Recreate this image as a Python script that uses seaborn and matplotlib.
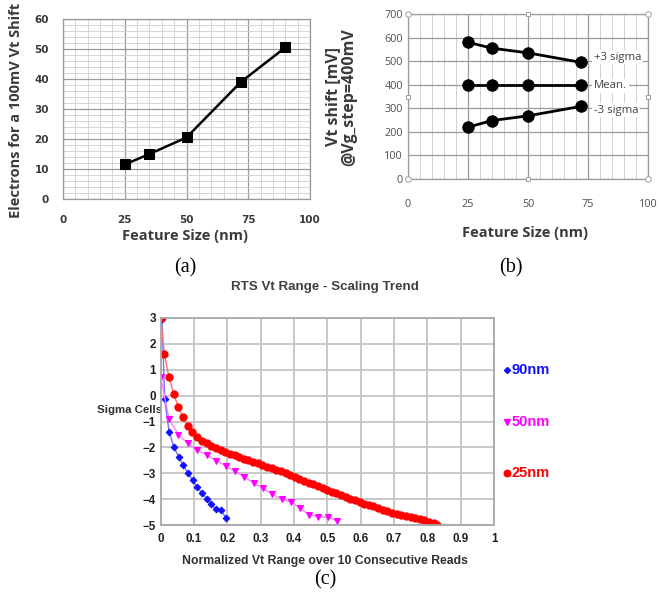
import matplotlib
matplotlib.use("Agg")
import matplotlib.pyplot as plt
from matplotlib.ticker import MultipleLocator
import pandas as pd
import seaborn as sns

# ---------------- (a) electrons needed for a 100 mV threshold shift
feature_a = [25, 35, 50, 72, 90]
electrons_a = [11.5, 15.0, 20.5, 39.0, 50.5]

# ---------------- (b) Vt shift statistics at Vg_step = 400 mV
feature_b = [25, 35, 50, 72]
vt_plus3 = [580, 555, 535, 495]
vt_mean = [400, 400, 400, 400]
vt_minus3 = [220, 248, 268, 308]
band_names = ["+3 sigma", "Mean.", "-3 sigma"]

# ---------------- (c) RTS Vt range distribution per node
range_90 = [0.004, 0.012, 0.025, 0.040, 0.054, 0.068, 0.082, 0.096, 0.110,
            0.124, 0.138, 0.152, 0.166, 0.181, 0.196]
sigma_90 = [2.95, -0.14, -1.39, -2.00, -2.37, -2.70, -3.00, -3.27, -3.54,
            -3.77, -3.99, -4.20, -4.39, -4.43, -4.73]

range_50 = [0.000, 0.025, 0.053, 0.081, 0.110, 0.138, 0.166, 0.195, 0.223,
            0.251, 0.279, 0.306, 0.335, 0.363, 0.390, 0.418, 0.446, 0.473,
            0.503, 0.530]
sigma_50 = [0.72, -0.90, -1.51, -1.84, -2.10, -2.29, -2.51, -2.71, -2.93,
            -3.15, -3.38, -3.58, -3.81, -4.01, -4.11, -4.36, -4.61, -4.68,
            -4.70, -4.85]

range_25 = [0.000, 0.011, 0.025, 0.039, 0.053, 0.067, 0.081, 0.095, 0.110,
            0.124, 0.138, 0.152, 0.166, 0.180, 0.194, 0.208, 0.222, 0.236,
            0.250, 0.263, 0.277, 0.291, 0.305, 0.319, 0.333, 0.347, 0.361,
            0.375, 0.388, 0.402, 0.416, 0.430, 0.444, 0.458, 0.472, 0.486,
            0.500, 0.513, 0.527, 0.541, 0.555, 0.569, 0.583, 0.597, 0.611,
            0.625, 0.638, 0.652, 0.666, 0.680, 0.694, 0.708, 0.722, 0.736,
            0.750, 0.763, 0.777, 0.791, 0.805, 0.819, 0.830]
sigma_25 = [3.00, 1.61, 0.71, 0.06, -0.45, -0.84, -1.17, -1.42, -1.59,
            -1.74, -1.85, -1.95, -2.03, -2.11, -2.18, -2.24, -2.31, -2.38,
            -2.44, -2.50, -2.57, -2.62, -2.68, -2.74, -2.80, -2.86, -2.93,
            -3.00, -3.07, -3.14, -3.21, -3.29, -3.36, -3.43, -3.50, -3.57,
            -3.64, -3.71, -3.78, -3.85, -3.91, -3.98, -4.05, -4.11, -4.17,
            -4.22, -4.28, -4.34, -4.41, -4.47, -4.53, -4.58, -4.62, -4.65,
            -4.69, -4.73, -4.77, -4.82, -4.88, -4.94, -4.99]

node_names = ["90nm", "50nm", "25nm"]
node_colors = ["#1010ff", "#ff00ff", "#ff0000"]
line_colors = ["#7070ff", "#ff80ff", "#ff7070"]
node_markers = ["D", "v", "o"]
node_msizes = [3.4, 5.0, 5.2]

sns.set_theme(style="white")
plt.rcParams["font.family"] = ["DejaVu Sans"]

W, H = 659, 595
fig = plt.figure(figsize=(W / 100, H / 100), dpi=100)


def px_axes(left, top, right, bottom):
    return fig.add_axes([left / W, 1 - bottom / H, (right - left) / W, (bottom - top) / H])


PT = 72 / 100  # points per pixel

# ======================= (a)
ax_a = px_axes(63, 19, 310, 199)
df_a = pd.DataFrame({"feature": feature_a, "electrons": electrons_a})
sns.lineplot(data=df_a, x="feature", y="electrons", ax=ax_a, color="black",
             lw=1.8, marker="s", markersize=7.2, markeredgecolor="black",
             markerfacecolor="black", estimator=None, sort=False, zorder=5)
ax_a.set_xlim(0, 100)
ax_a.set_ylim(0, 60)
ax_a.xaxis.set_major_locator(MultipleLocator(25))
ax_a.xaxis.set_minor_locator(MultipleLocator(5))
ax_a.yaxis.set_major_locator(MultipleLocator(10))
ax_a.yaxis.set_minor_locator(MultipleLocator(2))
ax_a.grid(which="major", color="#9a9a9a", lw=0.9)
ax_a.grid(which="minor", color="#cfcfcf", lw=0.6)
ax_a.set_axisbelow(True)
for s in ax_a.spines.values():
    s.set_color("#9a9a9a")
    s.set_linewidth(0.9)
ax_a.tick_params(which="both", length=0)
ax_a.tick_params(axis="x", pad=16 * PT)
ax_a.tick_params(axis="y", pad=14 * PT)
for lab in ax_a.get_xticklabels() + ax_a.get_yticklabels():
    lab.set_fontfamily("DejaVu Sans")
    lab.set_fontweight("bold")
    lab.set_fontsize(7.5)
    lab.set_color("#3a3a3a")
ax_a.set_xlabel("Feature Size (nm)", family="Open Sans", weight="bold",
                fontsize=10.5, color="#3a3a3a")
ax_a.set_ylabel("Electrons for a 100mV Vt Shift", family="Open Sans",
                weight="bold", fontsize=10.5, color="#3a3a3a")
ax_a.xaxis.set_label_coords(0.494, -0.165)
ax_a.yaxis.set_label_coords(-0.162, 0.494)

# ======================= (b)
ax_b = px_axes(408, 14, 648, 179)
df_b = pd.DataFrame({
    "feature": feature_b * 3,
    "shift": vt_plus3 + vt_mean + vt_minus3,
    "band": [band_names[0]] * 4 + [band_names[1]] * 4 + [band_names[2]] * 4,
})
sns.lineplot(data=df_b, x="feature", y="shift", units="band", ax=ax_b,
             color="black", lw=2.0, marker="o", markersize=8.2,
             markeredgecolor="black", estimator=None, sort=False, zorder=5)
ax_b.set_xlim(0, 100)
ax_b.set_ylim(0, 700)
ax_b.xaxis.set_major_locator(MultipleLocator(25))
ax_b.xaxis.set_minor_locator(MultipleLocator(5))
ax_b.yaxis.set_major_locator(MultipleLocator(100))
ax_b.grid(which="major", color="#9a9a9a", lw=0.9)
ax_b.grid(which="minor", axis="x", color="#d0d0d0", lw=0.7)
ax_b.set_axisbelow(True)
for s in ax_b.spines.values():
    s.set_color("#9a9a9a")
    s.set_linewidth(0.9)
ax_b.tick_params(which="both", length=0)
ax_b.tick_params(axis="x", pad=20 * PT)
ax_b.tick_params(axis="y", pad=5 * PT)
for lab in ax_b.get_xticklabels() + ax_b.get_yticklabels():
    lab.set_fontfamily("Open Sans")
    lab.set_fontsize(7.8)
    lab.set_color("#505050")
ax_b.set_xlabel("Feature Size (nm)", family="Open Sans", weight="bold",
                fontsize=10.5, color="#3a3a3a")
ax_b.set_ylabel("Vt shift [mV]\n@Vg_step=400mV", family="Open Sans",
                weight="bold", fontsize=11.5, color="#3a3a3a", linespacing=1.0)
ax_b.xaxis.set_label_coords(0.4875, -0.285)
ax_b.yaxis.set_label_coords(-0.2125, 0.497)
for name, yf in zip(band_names, [0.739, 0.564, 0.418]):
    ax_b.text(0.775, yf, name, transform=ax_b.transAxes, family="Open Sans",
              fontsize=8.2, color="#404040", va="center", ha="left",
              bbox=dict(boxstyle="square,pad=0.15", fc="white", ec="none"),
              zorder=6)
# selection handles around the chart frame
for hx, hy in [(0, 0), (1, 0), (0, 1), (1, 1)]:
    ax_b.plot(hx, hy, marker="o", ms=4, mfc="white", mec="#a0a0a0", mew=0.7,
              transform=ax_b.transAxes, clip_on=False, zorder=7)
for hx, hy in [(0.5, 0), (0.5, 1), (0, 0.5), (1, 0.5)]:
    ax_b.plot(hx, hy, marker="s", ms=3.5, mfc="white", mec="#a0a0a0", mew=0.7,
              transform=ax_b.transAxes, clip_on=False, zorder=7)

# ======================= (c)
ax_c = px_axes(160.7, 318, 494, 525)
series_c = [(range_90, sigma_90), (range_50, sigma_50), (range_25, sigma_25)]
for (xs, ys), col, lcol, mk, ms in zip(series_c, node_colors, line_colors,
                                        node_markers, node_msizes):
    sns.lineplot(x=xs, y=ys, ax=ax_c, color=lcol, lw=1.0, marker=mk,
                 markersize=ms, markerfacecolor=col, markeredgecolor=col,
                 estimator=None, sort=False)
ax_c.set_xlim(0, 1)
ax_c.set_ylim(-5, 3)
ax_c.set_xticks([i / 10 for i in range(11)])
ax_c.set_xticklabels(["0"] + [f"0.{i}" for i in range(1, 10)] + ["1"])
ax_c.set_yticks(range(-5, 4))
ax_c.grid(True, color="#c4c4c4", lw=1.3)
ax_c.set_axisbelow(True)
for s in ax_c.spines.values():
    s.set_color("#a8a8a8")
    s.set_linewidth(1.3)
ax_c.tick_params(length=0)
ax_c.tick_params(axis="x", pad=8 * PT)
ax_c.tick_params(axis="y", pad=5 * PT)
for lab in ax_c.get_xticklabels() + ax_c.get_yticklabels():
    lab.set_fontfamily("Liberation Sans")
    lab.set_fontweight("bold")
    lab.set_fontsize(8.4)
    lab.set_color("#202020")
ax_c.set_xlabel("Normalized Vt Range over 10 Consecutive Reads",
                family="Liberation Sans", weight="bold", fontsize=8.8,
                color="#303030")
ax_c.xaxis.set_label_coords(0.493, -0.145)
ax_c.set_ylabel("Sigma Cells", family="Liberation Sans", weight="bold",
                fontsize=8.2, color="#303030", rotation=0, ha="center",
                va="center")
ax_c.yaxis.set_label_coords(-0.092, 0.556)
fig.text(325 / W, 1 - 287 / H, "RTS Vt Range - Scaling Trend",
         family="Liberation Sans", weight="bold", fontsize=9.6,
         color="#404040", ha="center", va="center")
for name, col, mk, ms, yf in zip(node_names, node_colors, node_markers,
                                 node_msizes, [0.749, 0.498, 0.251]):
    ax_c.plot(1.039, yf, marker=mk, ms=ms * 0.9, color=col,
              transform=ax_c.transAxes, clip_on=False)
    ax_c.text(1.054, yf, name, transform=ax_c.transAxes, color=col,
              family="Liberation Sans", weight="bold", fontsize=10.5,
              ha="left", va="center")

# ======================= captions
for txt, cx, cy in [("(a)", 185, 268), ("(b)", 511, 268), ("(c)", 325, 580)]:
    fig.text(cx / W, 1 - cy / H, txt, family="Liberation Serif",
             fontsize=14.5, color="black", ha="center", va="center")

fig.savefig("out.png", dpi=100, facecolor="white")
